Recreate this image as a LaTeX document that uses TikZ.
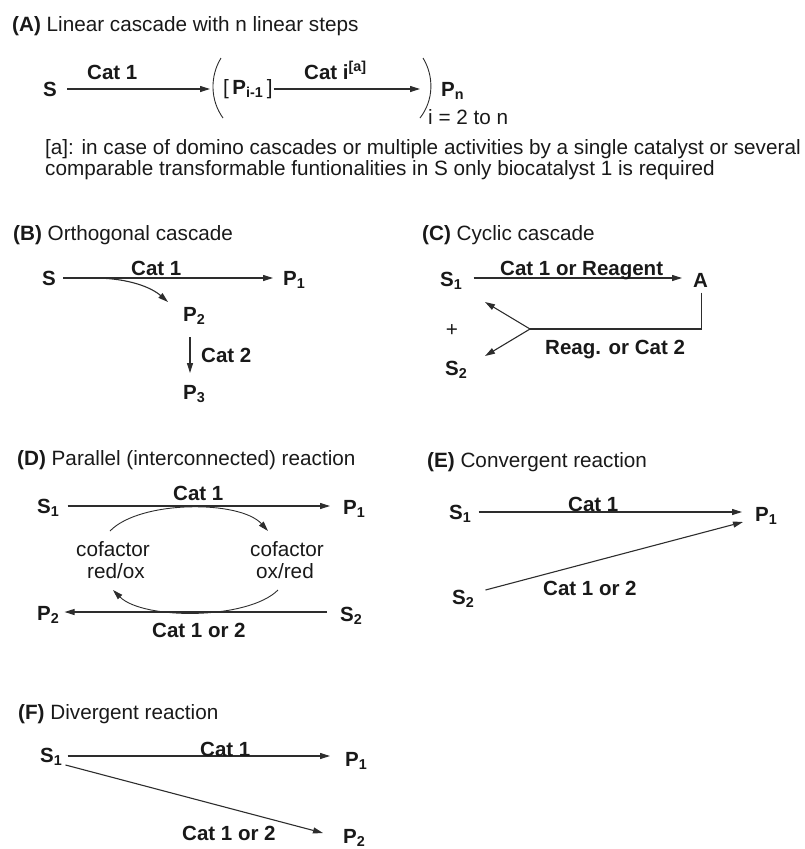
\documentclass[tikz,border=0pt]{standalone}
\usepackage{fontspec}
\setmainfont{Liberation Sans}
\usetikzlibrary{arrows.meta}
\definecolor{ink}{RGB}{25,25,25}
\definecolor{lineink}{RGB}{45,45,45}
\begin{document}
\begin{tikzpicture}[x=1pt,y=-1pt,
  txt/.style={inner sep=0pt, text height=14.7pt, text depth=0pt, anchor=west, text=ink, font=\fontsize{20.7}{20}\selectfont},
  lab/.style={txt, font=\fontsize{20.5}{20}\selectfont\bfseries},
  rxn/.style={draw=lineink, line width=1.1pt, -{Triangle[length=10pt,width=6pt]}},
  ln/.style={draw=lineink, line width=1.1pt},
  paren/.style={draw=lineink, line width=0.9pt},
]
\useasboundingbox (0,0) rectangle (804,849);

% ---------------- (A)
\node[txt] (tA) at (12,24) {\textbf{(A)} Linear cascade with n linear steps};
\node[lab] (sA) at (43,89) {S};
\coordinate (lpA) at (210,89);
\draw[rxn] ([xshift=10pt]sA.east) -- (lpA);
\node[lab] (cA1) at (87,72) {Cat 1};
\draw[paren] (221,58) .. controls (210,76) and (210,100) .. (223,118);
\node[txt] (brA) at (223,87) {[\,\textbf{\fontsize{20.5}{20}\selectfont P\textsubscript{i-1}}\,]};
\coordinate (rpA) at (420,89);
\draw[rxn] ([xshift=1pt,yshift=-2pt]brA.east) -- (rpA);
\node[lab] (cAi) at (304,72) {Cat i\textsuperscript{[a]}};
\draw[paren] (423,58) .. controls (434,76) and (434,100) .. (420,118);
\node[lab] (pnA) at (441,89) {P\textsubscript{n}};
\node[txt] (irA) at (428,117) {i = 2 to n};
\node[txt] (fn1) at (45,147) {[a]: in case of domino cascades or multiple activities by a single catalyst or several};
\node[txt] (fn2) at (45,168) {comparable transformable funtionalities in S only biocatalyst 1 is required};

% ---------------- (B)
\node[txt] (tB) at (13,233) {\textbf{(B)} Orthogonal cascade};
\node[lab] (sB) at (42,278) {S};
\node[lab] (p1B) at (283,278) {P\textsubscript{1}};
\draw[rxn] ([xshift=7pt]sB.east) -- ([xshift=-10pt]p1B.west);
\node[lab] (c1B) at (131,268) {Cat 1};
\node[lab] (p2B) at (183,314) {P\textsubscript{2}};
\coordinate (brB) at (93,278);
\draw[rxn] (brB) .. controls (130,278) and (152,288) .. ([xshift=-15pt,yshift=12pt]p2B.west);
\node[lab] (p3B) at (183,392) {P\textsubscript{3}};
\draw[rxn] ([xshift=7pt,yshift=-23pt]p2B.west) -- ([xshift=7pt,yshift=19pt]p3B.west);
\node[lab] (c2B) at (201,355) {Cat 2};

% ---------------- (C)
\node[txt] (tC) at (422,233) {\textbf{(C)} Cyclic cascade};
\node[lab] (s1C) at (440,279) {S\textsubscript{1}};
\node[lab] (aC) at (693,280) {A};
\draw[rxn] ([xshift=11pt,yshift=1pt]s1C.east) -- ([xshift=-11pt,yshift=2pt]aC.west);
\node[lab] (lC) at (500,268) {Cat 1 or Reagent};
\coordinate (jC) at (530,329);
\coordinate (uC) at (485,302);
\coordinate (dC) at (485,356);
\draw[ln] ([xshift=1pt,yshift=-5pt]aC.south) |- (jC);
\draw[rxn] (jC) -- (uC);
\draw[rxn] (jC) -- (dC);
\node[txt, anchor=center] (plusC) at (452,329) {+};
\node[lab] (s2C) at (445,368) {S\textsubscript{2}};
\node[lab] (lC2) at (545,347) {Reag. or Cat 2};

% ---------------- (D)
\node[txt] (tD) at (17,458) {\textbf{(D)} Parallel (interconnected) reaction};
\node[lab] (s1D) at (37,506) {S\textsubscript{1}};
\node[lab] (p1D) at (343,507) {P\textsubscript{1}};
\draw[rxn] ([xshift=8pt]s1D.east) -- ([xshift=-13pt,yshift=1pt]p1D.west);
\node[lab] (c1D) at (173,493) {Cat 1};
\node[lab] (p2D) at (37,613) {P\textsubscript{2}};
\node[lab] (s2D) at (340,614) {S\textsubscript{2}};
\draw[rxn] ([xshift=-13pt,yshift=2pt]s2D.west) -- ([xshift=5pt,yshift=1pt]p2D.east);
\node[lab] (c2D) at (152,630) {Cat 1 or 2};
\node[txt, anchor=center] (cofL) at (113,549) {cofactor};
\node[txt, anchor=center] (cofL2) at (116,571) {red/ox};
\node[txt, anchor=center] (cofR) at (287,549) {cofactor};
\node[txt, anchor=center] (cofR2) at (285,571) {ox/red};
\coordinate (arcTa) at (110,531);
\coordinate (arcTb) at (268,531);
\coordinate (arcBa) at (278,590);
\coordinate (arcBb) at (113,590);
\draw[rxn, line width=0.9pt] (arcTa) .. controls (140,500) and (240,500) .. (arcTb);
\draw[rxn, line width=0.9pt] (arcBa) .. controls (248,620) and (143,620) .. (arcBb);

% ---------------- (E)
\node[txt] (tE) at (427,460) {\textbf{(E)} Convergent reaction};
\node[lab] (s1E) at (449,512) {S\textsubscript{1}};
\node[lab] (p1E) at (755,514) {P\textsubscript{1}};
\draw[rxn] ([xshift=7pt]s1E.east) -- ([xshift=-13pt,yshift=2pt]p1E.west);
\node[lab] (c1E) at (568,504) {Cat 1};
\node[lab] (s2E) at (452,597) {S\textsubscript{2}};
\draw[rxn] ([xshift=11pt,yshift=7pt]s2E.east) -- ([xshift=-12pt,yshift=-8pt]p1E.west);
\node[lab] (c2E) at (543,588) {Cat 1 or 2};

% ---------------- (F)
\node[txt] (tF) at (18,712) {\textbf{(F)} Divergent reaction};
\node[lab] (s1F) at (40,755) {S\textsubscript{1}};
\node[lab] (p1F) at (345,759) {P\textsubscript{1}};
\draw[rxn] ([xshift=5pt,yshift=-1pt]s1F.east) -- ([xshift=-15pt,yshift=3pt]p1F.west);
\node[lab] (c1F) at (200,749) {Cat 1};
\node[lab] (p2F) at (343,836) {P\textsubscript{2}};
\draw[rxn] ([xshift=3pt,yshift=-10pt]s1F.east) -- ([xshift=-20pt,yshift=3pt]p2F.west);
\node[lab] (c2F) at (182,833) {Cat 1 or 2};
\end{tikzpicture}
\end{document}
